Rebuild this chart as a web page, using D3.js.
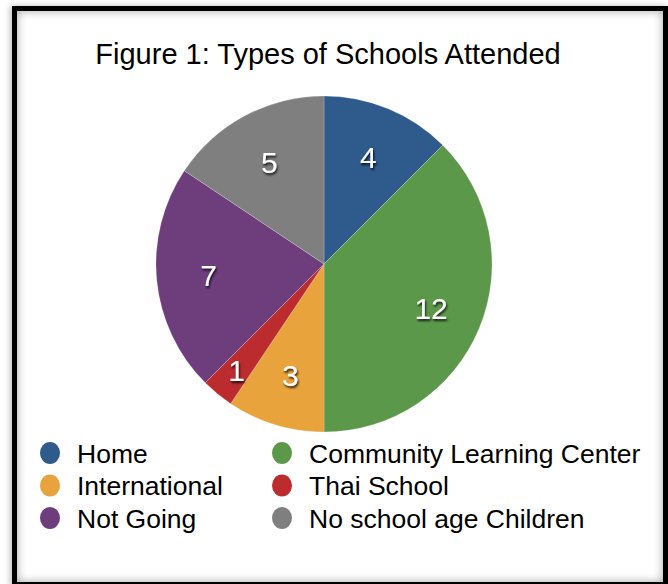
<!DOCTYPE html>
<meta charset="utf-8">
<html>
<style type='text/css'>
  body { margin:0; background:#fff; }
  #frame {
    position:absolute; left:12px; top:6px; width:646px; height:571px;
    border:5px solid #000; background:#fff;
    box-shadow: inset 0 0 10px rgba(0,0,0,0.35), -2px 0 6px rgba(0,0,0,0.25);
  }
</style>
<script src="https://d3js.org/d3.v7.min.js"></script>
<body>
<div id="frame"></div>
<svg id="chart" width="668" height="584" style="position:absolute;top:0;left:0;"></svg>

<script>

// Data
var categories = ["Home", "Community Learning Center", "International", "Thai School", "Not Going", "No school age Children"];
var counts = [4, 12, 3, 1, 7, 5];
var colors = ["#2e5a8c", "#5c984a", "#e8a33d", "#bc2c2e", "#6e3d7c", "#7e7f7e"];
var title = "Figure 1: Types of Schools Attended";

var svg = d3.select("#chart");

// drop shadow for the numbers
var defs = svg.append("defs");
defs.append("filter").attr("id", "shadow")
  .attr("x", "-50%").attr("y", "-50%").attr("width", "200%").attr("height", "200%")
  .append("feDropShadow")
  .attr("dx", 1).attr("dy", 2).attr("stdDeviation", 1.2)
  .attr("flood-color", "#000").attr("flood-opacity", 0.8);

svg.append("text")
  .attr("x", 328).attr("y", 64)
  .attr("text-anchor", "middle")
  .style("font-family", "'Liberation Sans', Arial, Helvetica, sans-serif")
  .style("font-size", "29px")
  .attr("fill", "#000")
  .text(title);

var cx = 324, cy = 264, radius = 168;
var color = d3.scaleOrdinal().domain(categories).range(colors);

var pie = d3.pie().sort(null).value(function(d) { return d; });
var arcs = pie(counts);
var arc = d3.arc().innerRadius(0).outerRadius(radius);

var g = svg.append("g").attr("transform", "translate(" + cx + "," + cy + ")");

g.selectAll("path")
  .data(arcs)
  .enter()
  .append("path")
    .attr("d", arc)
    .attr("fill", function(d, i) { return color(categories[i]); })
    .attr("stroke", "rgba(255,255,255,0.35)")
    .attr("stroke-width", 0.6);

// label arc, small slices get pushed outward
function labelPos(d) {
  var r = (d.endAngle - d.startAngle) < 0.3 ? radius * 0.82 : radius * 0.69;
  return d3.arc().innerRadius(r).outerRadius(r).centroid(d);
}

g.selectAll("text.val")
  .data(arcs)
  .enter()
  .append("text")
    .attr("class", "val")
    .attr("transform", function(d) { return "translate(" + labelPos(d) + ")"; })
    .attr("dy", "0.36em")
    .attr("text-anchor", "middle")
    .attr("fill", "#fff")
    .attr("filter", "url(#shadow)")
    .style("font-family", "'Liberation Sans', Arial, Helvetica, sans-serif")
    .style("font-size", "30px")
    .text(function(d) { return d.data; });

// Legend, two columns
var legend = svg.append("g").selectAll("g")
  .data(categories)
  .enter()
  .append("g")
    .attr("transform", function(d, i) {
      var col = i % 2, row = Math.floor(i / 2);
      return "translate(" + (col ? 282 : 50) + "," + (453 + row * 32.5) + ")";
    });

legend.append("ellipse")
  .attr("rx", 10).attr("ry", 11)
  .attr("fill", function(d) { return color(d); });

legend.append("text")
  .attr("x", 27)
  .attr("dy", "0.36em")
  .style("font-family", "'Liberation Sans', Arial, Helvetica, sans-serif")
  .style("font-size", "26.5px")
  .attr("fill", "#000")
  .text(function(d) { return d; });

</script>
</body>
</html>
